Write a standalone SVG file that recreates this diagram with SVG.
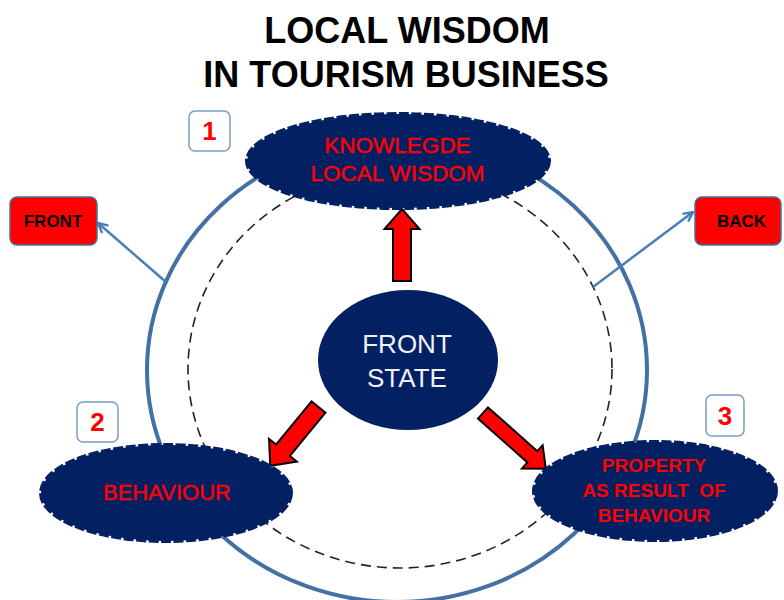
<svg xmlns="http://www.w3.org/2000/svg" width="784" height="600" viewBox="0 0 784 600">
<style>
.title{font-family:"Liberation Sans",Arial,sans-serif;font-weight:bold;font-size:36px;fill:#000;text-anchor:middle}
.node{fill:#022062;stroke:#022062;stroke-width:4;stroke-dasharray:10 2.5}
.lbl{font-family:"Liberation Sans",Arial,sans-serif;fill:#ff0000;text-anchor:middle}
.med{stroke:#ff0000;stroke-width:0.45}
.num{font-family:"Liberation Sans",Arial,sans-serif;font-weight:bold;font-size:26px;fill:#ff0000;text-anchor:middle}
.numbox{fill:#fff;stroke:#7a9cc4;stroke-width:1.5}
.tag{fill:#ff0000;stroke:#41719c;stroke-width:1.5}
.tagtxt{font-family:"Liberation Sans",Arial,sans-serif;font-weight:bold;font-size:17px;fill:#000;text-anchor:middle}
.arrow{fill:#ff0000;stroke:#000;stroke-width:2;stroke-linejoin:miter}
.conn{stroke:#4a7ebb;stroke-width:2.5;fill:none;marker-end:url(#open)}
</style>
<defs>
<marker id="open" viewBox="0 0 10 10" markerWidth="12" markerHeight="12" refX="9" refY="5" orient="auto" markerUnits="userSpaceOnUse">
<path d="M1,1 L9,5 L1,9" fill="none" stroke="#4a7ebb" stroke-width="2"/>
</marker>
</defs>
<g id="title">
<text class="title" x="407" y="43">LOCAL WISDOM</text>
<text class="title" x="406" y="87">IN TOURISM BUSINESS</text>
</g>
<g id="rings">
<ellipse cx="397" cy="370" rx="250" ry="232" fill="none" stroke="#4470a4" stroke-width="4"/>
<ellipse cx="400" cy="369" rx="212" ry="199" fill="none" stroke="#222" stroke-width="1.6" stroke-dasharray="10 6"/>
</g>
<g id="connectors">
<line class="conn" x1="166" y1="282" x2="98" y2="223"/>
<line class="conn" x1="593" y1="287" x2="693" y2="212"/>
<polygon class="arrow" transform="translate(402,281) rotate(-90)" points="0,-9 52,-9 52,-17.5 72,0 52,17.5 52,9 0,9"/>
<polygon class="arrow" transform="translate(318.5,407) rotate(129.4)" points="0,-9 56,-9 56,-18 76,0 56,18 56,9 0,9"/>
<polygon class="arrow" transform="translate(483,413) rotate(41.6)" points="0,-7.5 66,-7.5 66,-15.5 84,0 66,15.5 66,7.5 0,7.5"/>
</g>
<g id="front-state">
<ellipse cx="408" cy="360" rx="90" ry="70" fill="#022062"/>
<text x="407" y="353" font-family="Liberation Sans,Arial,sans-serif" font-size="26" fill="#f0f2f8" text-anchor="middle">FRONT</text>
<text x="407" y="387" font-family="Liberation Sans,Arial,sans-serif" font-size="26" fill="#f0f2f8" text-anchor="middle">STATE</text>
</g>
<g id="knowledge">
<ellipse class="node" cx="398" cy="161" rx="151" ry="47"/>
<text class="lbl med" x="397.5" y="153" font-size="22.5">KNOWLEGDE</text>
<text class="lbl med" x="397.5" y="181" font-size="22.5">LOCAL WISDOM</text>
</g>
<g id="behaviour">
<ellipse class="node" cx="166" cy="493" rx="125" ry="48"/>
<text class="lbl med" x="167" y="500" font-size="22">BEHAVIOUR</text>
</g>
<g id="property">
<ellipse class="node" cx="655" cy="491" rx="121" ry="49"/>
<text class="lbl" x="654" y="472" font-size="19" font-weight="bold">PROPERTY</text>
<text class="lbl" x="654" y="497" font-size="19" font-weight="bold" xml:space="preserve">AS RESULT  OF</text>
<text class="lbl" x="654" y="522" font-size="19" font-weight="bold">BEHAVIOUR</text>
</g>
<g id="num1">
<rect class="numbox" x="189" y="111" width="41" height="40" rx="6"/>
<text class="num" x="209.5" y="140">1</text>
</g>
<g id="num2">
<rect class="numbox" x="77" y="402" width="41" height="40" rx="6"/>
<text class="num" x="97.5" y="431">2</text>
</g>
<g id="num3">
<rect class="numbox" x="706" y="395" width="38" height="41" rx="6"/>
<text class="num" x="725" y="425">3</text>
</g>
<g id="front">
<rect class="tag" x="10" y="197" width="87" height="48" rx="7"/>
<text class="tagtxt" x="53" y="227">FRONT</text>
</g>
<g id="back">
<rect class="tag" x="695" y="197" width="86" height="48" rx="7"/>
<text class="tagtxt" x="741.5" y="227">BACK</text>
</g>
</svg>
